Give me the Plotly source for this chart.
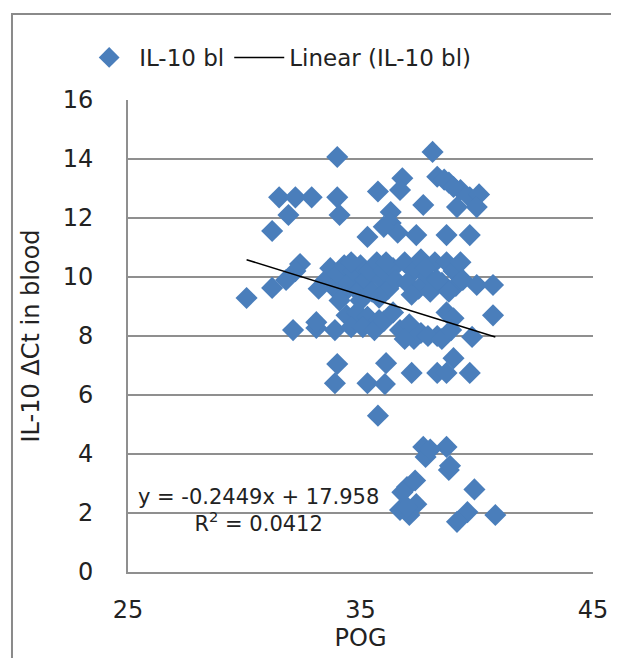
import plotly.graph_objects as go

# POG (x) and IL-10 dCt in blood (y)
pog = [34.0, 38.1, 31.5, 32.2, 32.9, 34.0, 35.75, 36.8, 36.7, 38.3, 38.8, 39.3, 39.7, 40.1, 38.6, 39.0,
       31.9, 34.1, 37.7, 39.15, 40.0, 36.3, 36.3, 36.6, 35.3, 37.4, 38.7, 39.7, 31.2, 36.0,
       30.1, 31.2, 31.8, 32.4, 32.2,
       33.5, 33.7, 33.9, 34.0, 34.2, 34.3, 34.5, 34.7, 34.9, 35.0, 35.2, 35.4, 35.5, 35.7, 35.9,
       36.0, 36.2, 36.4, 36.5, 34.1, 35.0, 35.8, 33.2, 34.6, 36.1,
       36.9, 37.3, 37.6, 37.9, 38.2, 38.5, 38.7, 39.0, 39.3, 39.1, 37.0, 37.5, 38.0, 38.3, 38.8,
       37.2, 39.4, 37.8, 40.0, 40.7,
       32.1, 33.1, 33.9, 33.1, 34.4, 34.85, 35.3, 35.8, 34.6, 35.1, 35.6, 36.0, 36.7, 37.1, 37.6,
       38.3, 38.7, 36.4, 37.3, 37.9, 38.5, 39.0, 39.8, 40.7, 38.9, 36.9,
       34.0, 33.9, 35.3, 36.1, 36.05, 37.2, 38.3, 38.7, 39.0, 39.7, 35.75,
       37.7, 38.7, 37.8, 38.0, 38.8, 38.85, 37.0, 37.35, 36.8, 36.7, 37.1, 37.4, 37.0, 39.9, 39.6,
       39.15, 40.8]
il10 = [14.07, 14.24, 12.7, 12.7, 12.7, 12.7, 12.9, 13.35, 12.95, 13.4, 13.2, 12.95, 12.7, 12.8, 13.3, 13.05,
        12.1, 12.1, 12.44, 12.37, 12.37, 12.2, 11.83, 11.5, 11.36, 11.42, 11.42, 11.42, 11.56, 11.7,
        9.29, 9.63, 9.9, 10.44, 10.2,
        9.9, 10.3, 9.6, 10.1, 9.4, 10.4, 9.8, 10.2, 9.5, 10.4, 9.9, 10.2, 9.5, 10.5, 9.9,
        10.2, 9.6, 10.3, 9.9, 9.2, 9.2, 9.3, 9.6, 10.5, 10.5,
        10.5, 10.2, 10.6, 10.0, 10.5, 9.8, 10.5, 10.2, 10.5, 9.7, 9.8, 9.6, 9.5, 9.9, 9.5,
        9.4, 9.9, 10.3, 9.73, 9.73,
        8.2, 8.27, 8.2, 8.47, 8.7, 8.8, 8.65, 8.54, 8.3, 8.3, 8.2, 8.5, 8.2, 8.4, 8.1,
        8.0, 8.8, 8.8, 7.9, 8.0, 7.9, 8.6, 7.97, 8.7, 8.2, 7.9,
        7.05, 6.4, 6.4, 7.08, 6.37, 6.75, 6.75, 6.75, 7.25, 6.75, 5.3,
        4.24, 4.24, 3.9, 4.15, 3.46, 3.6, 2.88, 3.1, 2.7, 2.1, 1.93, 2.3, 2.2, 2.8, 2.03,
        1.7, 1.93]

slope = -0.2449
intercept = 17.958
r_squared = 0.0412

x_ticks = [25, 35, 45]
y_ticks = [0, 2, 4, 6, 8, 10, 12, 14, 16]

line_x = [min(pog), max(pog)]
line_y = [slope * v + intercept for v in line_x]

FONT = "DejaVu Sans"
GRID = "#8f8f8f"
TXT = "#222222"

fig = go.Figure()
fig.add_trace(go.Scatter(
    x=pog, y=il10, mode="markers", name="IL-10 bl",
    marker=dict(symbol="diamond", size=17, color="#4a7ebb", line=dict(width=0)),
))
fig.add_trace(go.Scatter(
    x=line_x, y=line_y, mode="lines", name="Linear (IL-10 bl)",
    line=dict(color="black", width=1.5),
))

fig.add_annotation(
    x=30.63, y=2.07, xref="x", yref="y", showarrow=False,
    text=f"y = {slope}x + {intercept}<br>R<sup>2</sup> = {r_squared}",
    font=dict(family=FONT, size=21, color=TXT), align="center",
)

# chart frame: left and top edges (the others fall outside the picture)
fig.add_shape(type="path", xref="paper", yref="paper",
              path="M -0.2495,-0.3 L -0.2495,1.182 L 1.2,1.182",
              line=dict(color="#8a8a8a", width=2), layer="below")

fig.update_layout(
    width=611, height=650,
    margin=dict(l=120, r=26, t=92, b=86, autoexpand=False),
    paper_bgcolor="white", plot_bgcolor="white",
    font=dict(family=FONT, size=24, color=TXT),
    showlegend=True,
    legend=dict(orientation="h", x=-0.105, y=1.09, xanchor="left", yanchor="middle",
                font=dict(family=FONT, size=23, color=TXT), bgcolor="rgba(0,0,0,0)",
                itemwidth=50, tracegroupgap=0),
    xaxis=dict(range=[25, 45], tickvals=x_ticks, showgrid=False, zeroline=False,
               showline=True, linecolor=GRID, linewidth=2, ticks="", automargin=False,
               ticklabelstandoff=15, tickfont=dict(size=24),
               title=dict(text="POG", font=dict(family=FONT, size=24), standoff=0)),
    yaxis=dict(range=[0, 16], tickvals=y_ticks, showgrid=True, gridcolor=GRID, gridwidth=1.5,
               zeroline=False, showline=True, linecolor=GRID, linewidth=2, ticks="", automargin=False,
               ticklabelstandoff=28, tickfont=dict(size=24),
               title=dict(text="IL-10 ΔCt in blood", font=dict(family=FONT, size=24), standoff=16)),
)

fig.write_html("out.html", post_script="document.body.style.overflow='hidden';")
